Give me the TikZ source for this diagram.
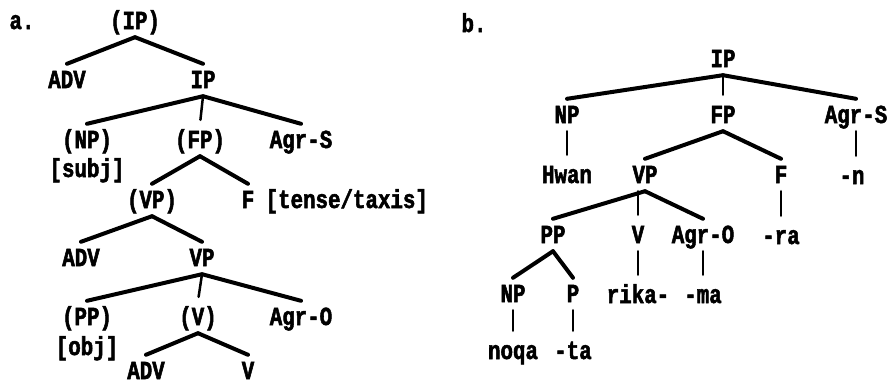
\documentclass[tikz,border=0pt]{standalone}
\usepackage{fontspec}
\newfontfamily\treefont[FakeStretch=0.8, FakeBold=2]{Liberation Mono Bold}
\usetikzlibrary{positioning}
\begin{document}
\begin{tikzpicture}[on grid, node distance=60pt]
    \tikzstyle{lab} = [font=\fontsize{26}{30}\selectfont\treefont,
    inner sep=0pt, text height=16pt, text depth=0pt, minimum height=32pt]
    \tikzstyle{branch} = [line width=4pt, line cap=round]
    \tikzstyle{stem} = [line width=2.5pt, line cap=round, shorten >=4pt]
    \useasboundingbox (0,0) rectangle (888pt,-383pt);
    % tree a
    \node [lab] (aroot) at (135pt,-21pt) {(IP)};
    \node [lab, left=113pt of aroot] (alabel) {a.};
    \node [lab, below left=59pt and 68pt of aroot] (aadv) {ADV};
    \node [lab, below right=59pt and 68pt of aroot] (aip) {IP};
    \node [lab, below left=60pt and 116pt of aip] (anp) {(NP)};
    \node [lab, below=29pt of anp] (asubj) {[subj]};
    \node [lab, below=60pt of aip, xshift=-3pt] (afp) {(FP)};
    \node [lab, below right=60pt and 98pt of aip] (agrs) {Agr-S};
    \node [lab, below left=60pt and 48pt of afp] (avp) {(VP)};
    \node [lab, below right=60pt and 48pt of afp] (af) {F};
    \node [lab, on grid=false, right=11pt of af] (atense) {[tense/taxis]};
    \node [lab, below left=58pt and 71pt of avp] (aadv2) {ADV};
    \node [lab, below right=58pt and 50pt of avp] (avp2) {VP};
    \node [lab, below left=59pt and 115pt of avp2] (app) {(PP)};
    \node [lab, below=30pt of app] (aobj) {[obj]};
    \node [lab, below=59pt of avp2, xshift=-4pt] (av) {(V)};
    \node [lab, below right=59pt and 99pt of avp2] (agro) {Agr-O};
    \node [lab, below left=54pt and 52pt of av] (aadv3) {ADV};
    \node [lab, below right=54pt and 50pt of av] (av2) {V};
    \draw [branch] (aroot.south) -- (aadv.north);
    \draw [branch] (aroot.south) -- (aip.north);
    \draw [branch] (aip.south) -- (anp.north);
    \draw [stem] (aip.south) -- (afp.north);
    \draw [branch] (aip.south) -- (agrs.north);
    \draw [branch] (afp.south) -- (avp.north);
    \draw [branch] (afp.south) -- (af.north);
    \draw [branch] (avp.south) -- (aadv2.north);
    \draw [branch] (avp.south) -- (avp2.north);
    \draw [branch] (avp2.south) -- (app.north);
    \draw [stem] (avp2.south) -- (av.north);
    \draw [branch] (avp2.south) -- (agro.north);
    \draw [branch] (av.south) -- (aadv3.north);
    \draw [branch] (av.south) -- (av2.north);
    % tree b
    \node [lab] (broot) at (723pt,-59pt) {IP};
    \node [lab] (blabel) at (474pt,-24pt) {b.};
    \node [lab, below left=56pt and 156pt of broot] (bnp) {NP};
    \node [lab, below=56pt of broot] (bfp) {FP};
    \node [lab, below right=56pt and 133pt of broot] (bagrs) {Agr-S};
    \node [lab, below=60pt of bnp] (bhwan) {Hwan};
    \node [lab, below=61pt of bagrs, xshift=-4pt] (bn) {-n};
    \node [lab, below left=60pt and 78pt of bfp] (bvp) {VP};
    \node [lab, below right=60pt and 58pt of bfp] (bf) {F};
    \node [lab, below left=60pt and 92pt of bvp] (bpp) {PP};
    \node [lab, below left=60pt and 7pt of bvp] (bv) {V};
    \node [lab, below right=60pt and 58pt of bvp] (bagro) {Agr-O};
    \node [lab, below=61pt of bf] (bra) {-ra};
    \node [lab, below left=59pt and 40pt of bpp] (bnp2) {NP};
    \node [lab, below right=59pt and 20pt of bpp] (bp) {P};
    \node [lab, below=60pt of bv] (brika) {rika-};
    \node [lab, below=60pt of bagro] (bma) {-ma};
    \node [lab, below=57pt of bnp2] (bnoqa) {noqa};
    \node [lab, below=57pt of bp] (bta) {-ta};
    \draw [branch] (broot.south) -- (bnp.north);
    \draw [stem] (broot.south) -- (bfp.north);
    \draw [branch] (broot.south) -- (bagrs.north);
    \draw [stem] (bnp.south) -- (bhwan.north);
    \draw [stem] (bagrs.south) -- (bagrs.south |- bn.north);
    \draw [branch] (bfp.south) -- (bvp.north);
    \draw [branch] (bfp.south) -- (bf.north);
    \draw [stem] (bf.south) -- (bra.north);
    \draw [branch] (bvp.south) -- (bpp.north);
    \draw [stem] (bvp.south -| bv.north) -- (bv.north);
    \draw [branch] (bvp.south) -- (bagro.north);
    \draw [stem] (bv.south) -- (brika.north);
    \draw [stem] (bagro.south) -- (bma.north);
    \draw [branch] (bpp.south) -- (bnp2.north);
    \draw [branch] (bpp.south) -- (bp.north);
    \draw [stem] (bnp2.south) -- (bnoqa.north);
    \draw [stem] (bp.south) -- (bta.north);
\end{tikzpicture}
\end{document}
